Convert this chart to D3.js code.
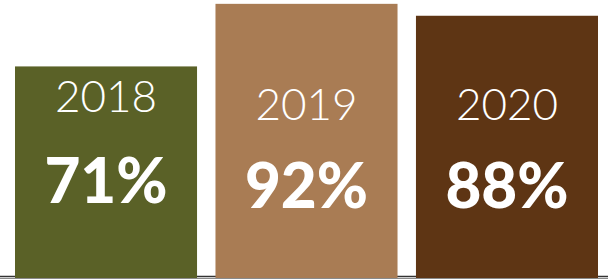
<!DOCTYPE html>
<html>
<head>
<meta charset="utf-8">
<script src="https://cdn.jsdelivr.net/npm/d3@7"></script>
<style>
  html, body { margin: 0; padding: 0; background: #ffffff; }
  svg { display: block; }
</style>
</head>
<body>
<svg id="chart" width="608" height="279"></svg>
<script>
const years = ["2018", "2019", "2020"];
const values = [71, 92, 88];
const colors = ["#5a6127", "#a97c54", "#5e3514"];

const W = 608, H = 279;
const svg = d3.select("#chart");

const x = d3.scaleBand().domain(years).range([15, 598]).paddingInner(0.092).paddingOuter(0);
const y = d3.scaleLinear().domain([0, 100]).range([278, -20]);

// label layout (baselines in px)
const yearBaseline = [112, 120, 120];
const pctBaseline = [203, 208, 208];

svg.append("line")
  .attr("x1", 0).attr("x2", W).attr("y1", 276.5).attr("y2", 276.5)
  .attr("stroke", "#333").attr("stroke-width", 1.5);

const data = years.map((yr, i) => ({ year: yr, value: values[i], color: colors[i], i }));

svg.selectAll("rect.bar").data(data).join("rect")
  .attr("class", "bar")
  .attr("x", d => x(d.year))
  .attr("width", x.bandwidth())
  .attr("y", d => y(d.value))
  .attr("height", d => y(0) - y(d.value))
  .attr("fill", d => d.color);

svg.append("line")
  .attr("x1", 0).attr("x2", W).attr("y1", 278.5).attr("y2", 278.5)
  .attr("stroke", "#8a8a8a").attr("stroke-width", 1);

svg.selectAll("text.year").data(data).join("text")
  .attr("class", "year")
  .attr("x", d => x(d.year) + x.bandwidth() / 2)
  .attr("y", d => yearBaseline[d.i])
  .attr("text-anchor", "middle")
  .attr("fill", "#ffffff")
  .style("font-family", "Lato, 'Open Sans', sans-serif")
  .style("font-weight", 300)
  .style("font-size", "44px")
  .text(d => d.year);

svg.selectAll("text.pct").data(data).join("text")
  .attr("class", "pct")
  .attr("x", d => x(d.year) + x.bandwidth() / 2)
  .attr("y", d => pctBaseline[d.i])
  .attr("text-anchor", "middle")
  .attr("fill", "#ffffff")
  .style("font-family", "Lato, 'Open Sans', sans-serif")
  .style("font-weight", 900)
  .style("font-size", "62px")
  .text(d => d.value + "%");
</script>
</body>
</html>
